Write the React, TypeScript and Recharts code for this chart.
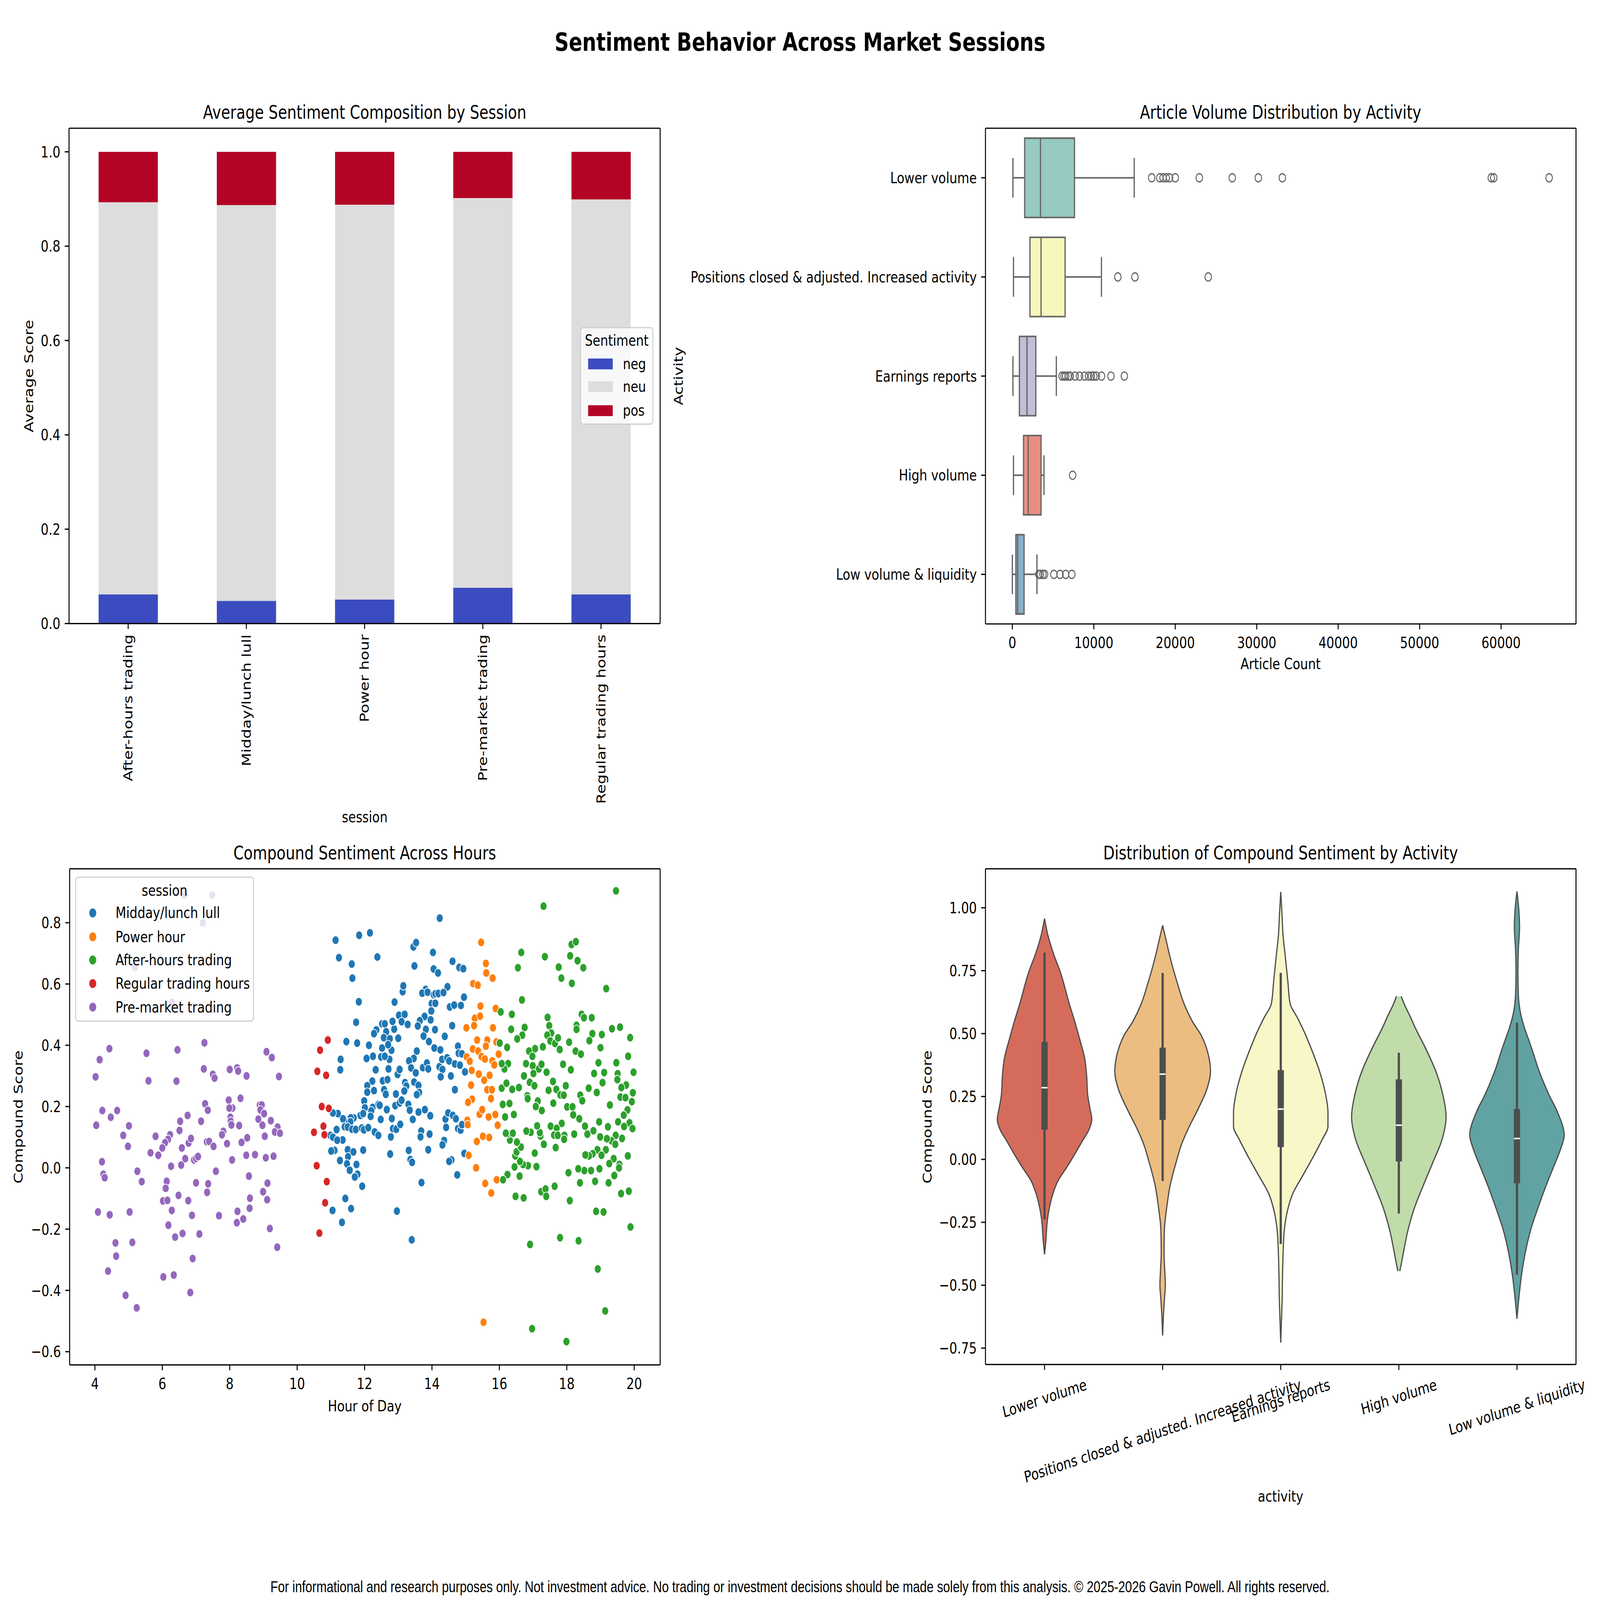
import React from 'react';
import {
  BarChart, Bar, XAxis, YAxis, Legend, ComposedChart, Scatter, ScatterChart,
  ReferenceArea, ReferenceLine, Area, CartesianGrid,
} from 'recharts';

const FONT = "'DejaVu Sans', Verdana, sans-serif";
const FS = 41.67;
const LW = 3.33;
const TK = 14.58;
const AXIS_STYLE = { stroke: '#000', strokeWidth: LW };
const TICK_STYLE = { fill: '#000', fontSize: FS, fontFamily: FONT };

// ---------------- Panel 1: stacked sentiment composition ----------------
const SESSIONS = ['After-hours trading', 'Midday/lunch lull', 'Power hour', 'Pre-market trading', 'Regular trading hours'];
const NEG = [0.062, 0.048, 0.051, 0.076, 0.062];
const NEU = [0.831, 0.839, 0.837, 0.826, 0.837];
const POS = [0.107, 0.113, 0.112, 0.098, 0.101];
const SENT_KEYS = ['neg', 'neu', 'pos'];
const SENT_COLORS = ['#3b4cc0', '#dddddd', '#b40426'];
const SCORE_TICKS = [0, 0.2, 0.4, 0.6, 0.8, 1.0];

// ---------------- Panel 2: article volume box plot ----------------
const ACTIVITIES = ['Lower volume', 'Positions closed & adjusted. Increased activity', 'Earnings reports', 'High volume', 'Low volume & liquidity'];
const BOX_COLORS = ['#96cac2', '#f6f6bd', '#c1bed6', '#ea8e83', '#8aafc9'];
const BOX_WLO = [70, 140, 70, 140, 0];
const BOX_Q1 = [1510, 2160, 860, 1370, 430];
const BOX_MED = [3450, 3525, 1800, 1940, 650];
const BOX_Q3 = [7625, 6475, 2880, 3525, 1440];
const BOX_WHI = [14960, 10935, 5400, 3885, 3020];
const OUT_LOWER = [17100, 18100, 18500, 18900, 19300, 20000, 22950, 27000, 30200, 33150, 58800, 59100, 65900];
const OUT_POSITIONS = [12950, 15050, 24050];
const OUT_EARNINGS = [6100, 6350, 6550, 6850, 7100, 7700, 8250, 8850, 9350, 9700, 10000, 10300, 10950, 12100, 13750];
const OUT_HIGH = [7400];
const OUT_LOW = [3250, 3450, 3750, 3950, 5100, 5850, 6550, 7300];
const OUTLIERS = [OUT_LOWER, OUT_POSITIONS, OUT_EARNINGS, OUT_HIGH, OUT_LOW];
const COUNT_TICKS = [0, 10000, 20000, 30000, 40000, 50000, 60000];
const BOX_LINE = '#666666';

// ---------------- Panel 3: compound sentiment across hours ----------------
const MIDDAY = [[11.14,0.743],[11.24,0.686],[11.84,0.759],[12.16,0.767],[11.62,0.665],[11.64,0.619],[12.38,0.688],[11.83,0.542],[11.75,0.475],[11.46,0.412],[11.78,0.407],[11.29,0.354],[11.28,0.320],[12.89,0.541],[13.13,0.575],[13.15,0.594],[13.45,0.721],[13.53,0.735],[13.48,0.659],[14.03,0.703],[14.23,0.815],[14.05,0.649],[14.18,0.636],[14.61,0.674],[14.81,0.654],[14.93,0.650],[14.46,0.591],[13.81,0.582],[13.71,0.570],[13.87,0.573],[14.05,0.565],[14.10,0.568],[14.19,0.569],[14.34,0.572],[13.99,0.536],[14.10,0.537],[13.98,0.512],[13.96,0.483],[13.78,0.494],[13.64,0.480],[13.58,0.463],[13.82,0.452],[14.09,0.451],[13.75,0.430],[13.91,0.412],[14.07,0.391],[14.25,0.385],[14.38,0.429],[14.60,0.464],[14.53,0.525],[14.66,0.531],[14.86,0.530],[14.95,0.557],[13.55,0.381],[13.46,0.357],[13.32,0.349],[13.38,0.326],[13.52,0.310],[13.73,0.327],[13.85,0.342],[13.89,0.323],[14.22,0.330],[14.31,0.321],[14.30,0.354],[14.45,0.359],[14.51,0.349],[14.26,0.297],[14.56,0.300],[14.68,0.339],[14.83,0.335],[14.77,0.397],[14.79,0.374],[14.89,0.372],[14.98,0.313],[14.68,0.255],[13.47,0.280],[13.60,0.269],[13.62,0.246],[13.55,0.239],[13.20,0.278],[13.24,0.267],[13.18,0.251],[13.00,0.423],[12.88,0.453],[12.83,0.478],[13.02,0.498],[13.19,0.501],[13.10,0.477],[13.28,0.468],[12.80,0.384],[12.74,0.354],[12.71,0.323],[12.98,0.305],[13.04,0.321],[12.52,0.470],[12.60,0.470],[12.64,0.444],[12.57,0.425],[12.75,0.421],[12.70,0.402],[12.35,0.450],[12.28,0.438],[12.52,0.391],[12.49,0.362],[12.60,0.364],[12.13,0.400],[12.06,0.357],[12.25,0.364],[12.33,0.320],[12.23,0.283],[12.08,0.268],[12.08,0.247],[12.28,0.252],[12.54,0.284],[12.68,0.288],[12.58,0.255],[12.63,0.240],[12.93,0.241],[11.99,0.218],[12.01,0.196],[12.24,0.197],[12.20,0.186],[12.18,0.168],[12.41,0.207],[12.45,0.204],[12.66,0.190],[12.91,0.203],[13.04,0.212],[13.10,0.221],[13.30,0.207],[13.34,0.188],[13.60,0.182],[13.79,0.190],[13.95,0.170],[13.43,0.158],[12.81,0.161],[12.48,0.158],[11.88,0.171],[11.96,0.177],[11.68,0.163],[11.59,0.163],[11.58,0.150],[11.40,0.152],[11.36,0.160],[11.21,0.177],[11.06,0.179],[11.17,0.125],[10.99,0.106],[11.06,0.100],[11.35,0.091],[11.41,0.134],[11.50,0.133],[11.63,0.126],[11.74,0.125],[11.92,0.130],[11.98,0.124],[12.11,0.131],[12.30,0.117],[12.41,0.106],[12.78,0.101],[12.84,0.128],[12.94,0.126],[13.06,0.142],[11.19,0.090],[11.11,0.057],[11.01,0.055],[11.50,0.059],[11.67,0.052],[11.96,0.058],[11.51,0.036],[11.27,0.024],[11.48,0.013],[11.76,0.011],[11.56,-0.008],[11.79,-0.021],[11.71,-0.030],[11.93,-0.060],[12.76,0.045],[13.31,0.057],[13.36,0.027],[13.41,0.018],[13.68,0.120],[13.66,0.101],[13.93,0.110],[13.89,0.059],[13.69,-0.048],[14.40,0.159],[14.48,0.179],[14.42,0.132],[14.62,0.171],[14.71,0.160],[14.77,0.128],[14.85,0.123],[14.89,0.141],[14.36,0.089],[14.31,0.075],[14.58,0.026],[14.51,0.021],[14.75,-0.023],[14.96,0.047],[11.43,-0.100],[11.60,-0.133],[11.05,-0.139],[11.33,-0.178],[12.96,-0.141],[13.40,-0.235]];
const POWER = [[15.46,0.736],[15.60,0.667],[15.61,0.636],[15.22,0.601],[15.36,0.596],[15.44,0.528],[15.27,0.488],[15.43,0.495],[15.25,0.464],[15.02,0.457],[15.34,0.417],[15.64,0.417],[15.60,0.397],[15.21,0.388],[15.37,0.381],[15.03,0.362],[15.12,0.348],[15.47,0.363],[15.57,0.355],[15.18,0.318],[15.39,0.306],[15.55,0.286],[15.71,0.302],[15.16,0.270],[15.64,0.255],[15.78,0.255],[15.75,0.226],[15.19,0.224],[15.07,0.214],[15.41,0.175],[15.49,0.190],[15.68,0.166],[15.88,0.174],[15.95,0.139],[15.05,0.155],[15.06,0.141],[15.33,0.086],[15.51,0.103],[15.70,0.099],[15.09,0.041],[15.31,0.000],[15.58,-0.051],[15.53,-0.504],[15.80,0.619],[15.89,0.520],[15.81,0.457],[15.91,0.411],[15.98,0.371],[15.79,0.349],[15.85,0.336],[15.76,-0.082],[15.92,-0.039]];
const AFTER = [[19.46,0.904],[17.31,0.854],[16.65,0.703],[17.35,0.689],[16.55,0.653],[18.14,0.729],[18.27,0.738],[18.10,0.692],[18.32,0.676],[18.49,0.653],[17.76,0.655],[17.84,0.619],[18.15,0.602],[19.17,0.585],[16.67,0.548],[16.04,0.509],[16.37,0.501],[16.35,0.452],[16.75,0.458],[16.68,0.433],[16.53,0.421],[16.01,0.407],[16.23,0.393],[17.43,0.491],[17.48,0.464],[17.54,0.440],[17.42,0.433],[17.51,0.414],[17.65,0.406],[17.74,0.424],[17.79,0.386],[17.29,0.395],[17.06,0.389],[16.88,0.381],[16.98,0.364],[18.44,0.501],[18.51,0.490],[18.74,0.490],[18.29,0.465],[18.29,0.452],[18.07,0.410],[18.26,0.381],[18.42,0.371],[18.76,0.438],[18.67,0.415],[19.04,0.435],[19.00,0.392],[19.34,0.454],[19.58,0.459],[19.88,0.425],[19.82,0.364],[19.47,0.343],[19.98,0.312],[19.51,0.307],[19.50,0.288],[18.94,0.343],[18.81,0.308],[19.11,0.311],[19.06,0.278],[18.65,0.260],[18.89,0.246],[17.89,0.338],[18.12,0.320],[16.79,0.340],[16.99,0.333],[17.17,0.323],[17.25,0.338],[17.40,0.312],[17.01,0.308],[16.73,0.300],[16.90,0.279],[17.04,0.268],[17.59,0.282],[17.46,0.253],[17.69,0.256],[17.97,0.268],[17.81,0.238],[17.91,0.237],[18.40,0.237],[18.46,0.219],[16.83,0.235],[16.84,0.226],[17.14,0.218],[17.08,0.200],[17.26,0.187],[17.60,0.211],[18.01,0.199],[18.17,0.199],[18.19,0.173],[18.37,0.160],[19.28,0.205],[19.76,0.270],[19.62,0.262],[19.96,0.245],[19.59,0.231],[19.74,0.229],[19.93,0.216],[19.80,0.189],[19.69,0.172],[19.86,0.147],[19.70,0.135],[19.95,0.128],[19.52,0.150],[18.96,0.150],[19.22,0.134],[19.64,0.096],[18.99,0.101],[19.45,0.106],[19.33,0.088],[19.19,0.095],[19.44,0.077],[18.79,0.121],[18.61,0.110],[18.54,0.136],[19.81,0.039],[18.91,0.059],[19.16,0.059],[19.03,0.041],[18.77,0.046],[18.66,0.039],[18.55,0.042],[19.39,0.030],[19.26,0.014],[19.56,0.011],[19.55,0.000],[19.41,-0.025],[18.97,-0.003],[18.72,-0.009],[18.52,-0.009],[18.34,-0.003],[18.05,-0.016],[18.39,-0.049],[18.84,-0.044],[19.24,-0.049],[19.61,-0.084],[19.84,-0.076],[18.87,-0.142],[19.09,-0.144],[19.89,-0.193],[18.09,-0.107],[18.35,-0.238],[17.80,-0.228],[18.92,-0.330],[19.14,-0.467],[16.91,-0.250],[16.97,-0.525],[17.99,-0.567],[18.22,0.110],[17.85,0.145],[17.52,0.136],[17.70,0.129],[17.62,0.107],[17.73,0.106],[17.93,0.106],[17.92,0.093],[17.32,0.077],[17.67,0.066],[17.22,0.104],[17.20,0.115],[17.12,0.137],[16.93,0.116],[16.80,0.120],[17.05,0.048],[17.10,0.004],[16.85,0.007],[16.70,0.011],[16.61,0.021],[16.45,0.003],[16.60,-0.027],[16.24,-0.022],[16.11,-0.039],[16.48,-0.093],[16.72,-0.098],[17.24,-0.078],[17.37,-0.069],[17.39,-0.093],[17.64,-0.060],[16.47,0.039],[16.51,0.052],[16.64,0.068],[16.52,0.084],[16.31,0.091],[16.24,0.111],[16.19,0.113],[16.40,0.113],[16.17,0.166],[16.43,0.174],[16.30,0.210],[16.10,0.207],[16.07,0.260],[16.21,0.276],[16.38,0.256],[16.58,0.262],[16.26,0.340],[16.15,0.323],[16.07,0.340]];
const REGULAR = [[10.91,0.417],[10.68,0.384],[10.60,0.315],[10.86,0.302],[10.73,0.200],[10.94,0.194],[10.78,0.136],[10.50,0.116],[10.81,0.108],[10.58,0.007],[10.88,-0.045],[10.83,-0.114],[10.66,-0.213]];
const PREMARKET = [[4.43,0.389],[4.14,0.353],[4.02,0.297],[5.53,0.374],[6.45,0.385],[7.25,0.408],[5.59,0.284],[6.42,0.283],[7.23,0.323],[7.50,0.305],[7.55,0.293],[8.00,0.321],[8.22,0.326],[8.25,0.316],[8.50,0.300],[9.09,0.379],[9.25,0.360],[9.46,0.298],[4.22,0.187],[4.47,0.165],[4.66,0.187],[4.04,0.139],[5.01,0.137],[4.84,0.106],[4.98,0.070],[4.21,0.020],[4.25,-0.021],[4.29,-0.032],[5.26,-0.011],[5.39,-0.045],[4.09,-0.144],[4.44,-0.153],[5.03,-0.144],[4.61,-0.245],[5.11,-0.243],[4.63,-0.288],[4.39,-0.337],[4.91,-0.416],[5.24,-0.457],[6.03,-0.356],[6.34,-0.350],[6.83,-0.407],[6.90,-0.296],[7.27,0.209],[7.35,0.188],[6.75,0.171],[6.53,0.152],[6.51,0.122],[7.15,0.152],[6.23,0.108],[6.17,0.093],[6.08,0.082],[6.00,0.065],[5.80,0.103],[5.65,0.049],[5.88,0.041],[6.58,0.065],[6.78,0.081],[6.85,0.096],[6.68,0.030],[6.56,0.009],[6.26,0.005],[6.94,0.026],[7.00,0.031],[7.06,0.037],[7.32,0.085],[7.39,0.086],[7.52,0.070],[7.59,-0.011],[6.13,-0.044],[6.10,-0.067],[6.02,-0.108],[6.15,-0.106],[6.48,-0.090],[6.77,-0.107],[6.28,-0.139],[6.88,-0.155],[6.18,-0.187],[6.38,-0.226],[6.60,-0.214],[7.10,-0.216],[7.00,-0.049],[7.36,-0.052],[7.33,-0.080],[7.68,-0.156],[7.97,0.221],[8.08,0.195],[7.99,0.195],[8.32,0.227],[8.02,0.165],[8.03,0.152],[8.05,0.140],[8.28,0.138],[7.81,0.119],[7.77,0.108],[7.92,0.079],[8.35,0.083],[8.52,0.098],[8.49,0.041],[8.75,0.043],[8.07,0.026],[8.57,-0.027],[8.60,-0.099],[8.59,-0.132],[8.23,-0.142],[8.40,-0.167],[8.21,-0.179],[8.89,0.205],[8.95,0.205],[8.91,0.189],[9.02,0.177],[8.85,0.159],[8.97,0.139],[9.22,0.154],[9.04,0.103],[9.42,0.133],[9.34,0.117],[9.49,0.113],[9.07,0.033],[9.30,0.038],[9.12,-0.050],[8.99,-0.078],[9.11,-0.104],[9.19,-0.198],[9.41,-0.259],[6.65,0.890],[7.48,0.890],[7.20,0.799],[5.19,0.654],[6.29,0.540]];
const SESSION_NAMES = ['Midday/lunch lull', 'Power hour', 'After-hours trading', 'Regular trading hours', 'Pre-market trading'];
const SESSION_COLORS = ['#1f77b4', '#ff7f0e', '#2ca02c', '#d62728', '#9467bd'];
const SESSION_POINTS = [MIDDAY, POWER, AFTER, REGULAR, PREMARKET];
const HOUR_TICKS = [4, 6, 8, 10, 12, 14, 16, 18, 20];
const COMPOUND_TICKS = [-0.6, -0.4, -0.2, 0, 0.2, 0.4, 0.6, 0.8];

// ---------------- Panel 4: violin of compound sentiment ----------------
const VIOLIN_COLORS = ['#d56c5b', '#ecbd81', '#f7f7c7', '#bfdca9', '#60a3a2'];
const V_LOWER = [[0.957,0],[0.888,0.03],[0.816,0.077],[0.744,0.134],[0.618,0.21],[0.546,0.257],[0.474,0.30],[0.402,0.34],[0.330,0.357],[0.258,0.365],[0.204,0.384],[0.159,0.40],[0.114,0.372],[0.078,0.326],[0.024,0.26],[-0.030,0.19],[-0.084,0.115],[-0.138,0.07],[-0.19,0.042],[-0.246,0.023],[-0.318,0.012],[-0.377,0]];
const V_POSITIONS = [[0.93,0],[0.87,0.03],[0.80,0.065],[0.70,0.125],[0.62,0.18],[0.55,0.25],[0.49,0.33],[0.42,0.385],[0.35,0.405],[0.28,0.375],[0.20,0.30],[0.13,0.225],[0.06,0.16],[-0.01,0.115],[-0.10,0.065],[-0.19,0.035],[-0.28,0.015],[-0.37,0.012],[-0.46,0.02],[-0.50,0.023],[-0.55,0.016],[-0.61,0.008],[-0.70,0]];
const V_EARNINGS = [[1.063,0],[0.978,0.01],[0.888,0.02],[0.80,0.04],[0.708,0.06],[0.618,0.08],[0.564,0.14],[0.51,0.196],[0.438,0.26],[0.348,0.33],[0.258,0.38],[0.186,0.40],[0.132,0.40],[0.078,0.35],[0.006,0.27],[-0.066,0.184],[-0.138,0.10],[-0.21,0.054],[-0.282,0.03],[-0.372,0.02],[-0.462,0.015],[-0.552,0.012],[-0.642,0.006],[-0.728,0]];
const V_HIGH = [[0.648,0.02],[0.618,0.045],[0.564,0.10],[0.528,0.134],[0.438,0.23],[0.348,0.315],[0.258,0.372],[0.168,0.40],[0.078,0.365],[-0.012,0.288],[-0.10,0.21],[-0.19,0.134],[-0.282,0.077],[-0.372,0.038],[-0.417,0.02],[-0.444,0.008]];
const V_LOW = [[1.065,0],[1.014,0.012],[0.924,0.022],[0.834,0.012],[0.744,0.008],[0.654,0.012],[0.582,0.03],[0.528,0.06],[0.474,0.10],[0.438,0.127],[0.348,0.19],[0.258,0.27],[0.186,0.345],[0.096,0.40],[0.042,0.37],[-0.03,0.31],[-0.10,0.25],[-0.19,0.18],[-0.282,0.115],[-0.372,0.07],[-0.462,0.038],[-0.552,0.016],[-0.633,0]];
const VIOLIN_PROFILES = [V_LOWER, V_POSITIONS, V_EARNINGS, V_HIGH, V_LOW];
const V_Q1 = [0.118, 0.157, 0.049, -0.008, -0.095];
const V_Q3 = [0.467, 0.444, 0.355, 0.318, 0.20];
const V_MED = [0.285, 0.339, 0.20, 0.136, 0.083];
const V_WLO = [-0.239, -0.086, -0.336, -0.215, -0.458];
const V_WHI = [0.822, 0.741, 0.741, 0.424, 0.543];
const VIOLIN_TICKS = [-0.75, -0.5, -0.25, 0, 0.25, 0.5, 0.75, 1.0];
const CAT_TICKS = [0, 1, 2, 3, 4];
const VIOLIN_LINE = '#4d4d4d';

// ---------------- layout ----------------
const PAGE_W = 5400;
const PAGE_H = 4280;
const P1_BOX = { x: 0, y: 200, w: 2700, h: 2100 };
const P1_PLOT = { x: 233, y: 343, w: 1995, h: 1325 };
const P2_BOX = { x: 2250, y: 200, w: 3150, h: 2100 };
const P2_PLOT = { x: 3326, y: 343, w: 1993, h: 1326 };
const P3_BOX = { x: 0, y: 2250, w: 2700, h: 1700 };
const P3_PLOT = { x: 235, y: 2324, w: 1993, h: 1327 };
const P4_BOX = { x: 2700, y: 2250, w: 2700, h: 2000 };
const P4_PLOT = { x: 3326, y: 2324, w: 1993, h: 1326 };

function margins(box: any, plot: any, yw: number, xh: number) {
  return {
    left: plot.x - box.x - yw,
    top: plot.y - box.y,
    right: box.x + box.w - plot.x - plot.w,
    bottom: box.y + box.h - plot.y - plot.h - xh,
  };
}

const fmt = (d: number) => (v: number) => Number(v).toFixed(d).replace('-', '\u2212');

let measureCtx: any = null;
function textWidth(t: string, size: number) {
  if (!measureCtx) measureCtx = document.createElement('canvas').getContext('2d');
  measureCtx.font = `${size}px 'DejaVu Sans'`;
  return measureCtx.measureText(t).width;
}

const RotTick90 = (props: any) => {
  const { x, y, payload } = props;
  return (
    <text x={x} y={y} transform={`rotate(-90 ${x} ${y})`} textAnchor="end" dominantBaseline="central"
      fill="#000" fontSize={FS} fontFamily={FONT}>{payload.value}</text>
  );
};

const RotTick15 = (props: any) => {
  const { x, y, payload } = props;
  const label = ACTIVITIES[payload.value] ?? '';
  const w = textWidth(label, FS);
  const a = (15 * Math.PI) / 180;
  const h = FS * 1.164;
  const cy = y + (w * Math.sin(a) + h * Math.cos(a)) / 2;
  return (
    <text x={x} y={cy} transform={`rotate(-15 ${x} ${cy})`} textAnchor="middle" dominantBaseline="central"
      fill="#000" fontSize={FS} fontFamily={FONT}>{label}</text>
  );
};

const ActivityTick = (props: any) => {
  const { x, y, payload } = props;
  return (
    <text x={x} y={y} textAnchor="end" dominantBaseline="central" fill="#000" fontSize={FS} fontFamily={FONT}>
      {ACTIVITIES[payload.value] ?? ''}
    </text>
  );
};

// top and right spines of the axes frame, placed from the chart's own plot offset
const frameGrid = () => (
  <CartesianGrid stroke="#000" strokeWidth={LW}
    horizontalCoordinatesGenerator={(p: any) => [p.offset.top]}
    verticalCoordinatesGenerator={(p: any) => [p.offset.left + p.offset.width]} />
);

const legendBox: any = {
  position: 'relative', boxSizing: 'border-box', border: '3px solid #cccccc', borderRadius: 10,
  background: 'rgba(255,255,255,0.8)', fontFamily: FONT, fontSize: FS, color: '#000',
};

const SentimentLegend = () => {
  const rows = [98, 159, 223];
  return (
    <div style={{ ...legendBox, width: 247, height: 261 }}>
      <div style={{ position: 'absolute', left: 0, width: '100%', top: 36 - 28, lineHeight: '50px', textAlign: 'center' }}>Sentiment</div>
      {SENT_KEYS.map((k, i) => (
        <React.Fragment key={k}>
          <div style={{ position: 'absolute', left: 24, top: rows[i] - 17, width: 83, height: 29, background: SENT_COLORS[i] }} />
          <div style={{ position: 'absolute', left: 141, top: rows[i] - 28, lineHeight: '50px', whiteSpace: 'nowrap' }}>{k}</div>
        </React.Fragment>
      ))}
    </div>
  );
};

const SessionLegend = () => {
  const rows = [97, 161, 223, 286, 349];
  return (
    <div style={{ ...legendBox, width: 603, height: 388 }}>
      <div style={{ position: 'absolute', left: 0, width: '100%', top: 37 - 28, lineHeight: '50px', textAlign: 'center' }}>session</div>
      {SESSION_NAMES.map((n, i) => (
        <React.Fragment key={n}>
          <div style={{ position: 'absolute', left: 56 - 12, top: rows[i] - 15, width: 24, height: 24, borderRadius: '50%', background: SESSION_COLORS[i] }} />
          <div style={{ position: 'absolute', left: 133, top: rows[i] - 28, lineHeight: '50px', whiteSpace: 'nowrap' }}>{n}</div>
        </React.Fragment>
      ))}
    </div>
  );
};

function Panel1() {
  const data = SESSIONS.map((s, i) => ({ session: s, neg: NEG[i], neu: NEU[i], pos: POS[i] }));
  const m = margins(P1_BOX, P1_PLOT, 200, 600);
  return (
    <div style={{ position: 'absolute', left: P1_BOX.x, top: P1_BOX.y }}>
      <BarChart width={P1_BOX.w} height={P1_BOX.h} data={data} margin={m} barCategoryGap="25%">
        {frameGrid()}
        <XAxis dataKey="session" type="category" height={600} interval={0} tickSize={TK} tickMargin={TK}
          tickLine={AXIS_STYLE} axisLine={AXIS_STYLE} tick={(p: any) => <RotTick90 {...p} />} />
        <YAxis type="number" domain={[0, 1.05]} ticks={SCORE_TICKS} width={200} interval={0} allowDataOverflow
          tickSize={TK} tickMargin={TK} tickLine={AXIS_STYLE} axisLine={AXIS_STYLE} tick={TICK_STYLE} tickFormatter={fmt(1)} />
        {SENT_KEYS.map((k, i) => (
          <Bar key={k} dataKey={k} stackId="s" fill={SENT_COLORS[i]} isAnimationActive={false} />
        ))}
        <Legend layout="vertical" align="center" verticalAlign="middle"
          wrapperStyle={{ left: 1958 - P1_BOX.x, top: 875 - P1_BOX.y, width: 247, height: 261 }}
          content={() => <SentimentLegend />} />
      </BarChart>
    </div>
  );
}

const OpenCircle = (p: any) =>
  p.cx == null ? null : <circle cx={p.cx} cy={p.cy} r={11} fill="none" stroke={BOX_LINE} strokeWidth={3.3} />;

function Panel2() {
  const m = margins(P2_BOX, P2_PLOT, 1050, 150);
  const fliers = OUTLIERS.flatMap((arr, i) => arr.map((v) => ({ x: v, y: i })));
  const boxLine = { stroke: BOX_LINE, strokeWidth: 4.2 };
  return (
    <div style={{ position: 'absolute', left: P2_BOX.x, top: P2_BOX.y }}>
      <ComposedChart width={P2_BOX.w} height={P2_BOX.h} margin={m}>
        {frameGrid()}
        <XAxis type="number" dataKey="x" domain={[-3300, 69200]} ticks={COUNT_TICKS} interval={0} allowDataOverflow
          height={150} tickSize={TK} tickMargin={TK + 6} tickLine={AXIS_STYLE} axisLine={AXIS_STYLE} tick={TICK_STYLE} />
        <YAxis type="number" dataKey="y" domain={[-0.5, 4.5]} reversed ticks={CAT_TICKS} interval={0} allowDataOverflow
          width={1050} tickSize={TK} tickMargin={TK} tickLine={AXIS_STYLE} axisLine={AXIS_STYLE}
          tick={(p: any) => <ActivityTick {...p} />} />
        {ACTIVITIES.map((a, i) => (
          <ReferenceArea key={'box' + i} x1={BOX_Q1[i]} x2={BOX_Q3[i]} y1={i - 0.4} y2={i + 0.4}
            fill={BOX_COLORS[i]} fillOpacity={1} {...boxLine} />
        ))}
        {ACTIVITIES.map((a, i) => [
          <ReferenceLine key={'wl' + i} segment={[{ x: BOX_WLO[i], y: i }, { x: BOX_Q1[i], y: i }]} {...boxLine} />,
          <ReferenceLine key={'wh' + i} segment={[{ x: BOX_Q3[i], y: i }, { x: BOX_WHI[i], y: i }]} {...boxLine} />,
          <ReferenceLine key={'cl' + i} segment={[{ x: BOX_WLO[i], y: i - 0.2 }, { x: BOX_WLO[i], y: i + 0.2 }]} {...boxLine} />,
          <ReferenceLine key={'ch' + i} segment={[{ x: BOX_WHI[i], y: i - 0.2 }, { x: BOX_WHI[i], y: i + 0.2 }]} {...boxLine} />,
          <ReferenceLine key={'md' + i} segment={[{ x: BOX_MED[i], y: i - 0.4 }, { x: BOX_MED[i], y: i + 0.4 }]} {...boxLine} />,
        ])}
        <Scatter data={fliers} dataKey="x" shape={OpenCircle} isAnimationActive={false} />
      </ComposedChart>
    </div>
  );
}

function Panel3() {
  const m = margins(P3_BOX, P3_PLOT, 200, 150);
  return (
    <div style={{ position: 'absolute', left: P3_BOX.x, top: P3_BOX.y }}>
      <ScatterChart width={P3_BOX.w} height={P3_BOX.h} margin={m}>
        {frameGrid()}
        <XAxis type="number" dataKey="hour" domain={[3.25, 20.77]} ticks={HOUR_TICKS} interval={0} allowDataOverflow
          height={150} tickSize={TK} tickMargin={TK + 6} tickLine={AXIS_STYLE} axisLine={AXIS_STYLE} tick={TICK_STYLE} />
        <YAxis type="number" dataKey="score" domain={[-0.643, 0.976]} ticks={COMPOUND_TICKS} interval={0} allowDataOverflow
          width={200} tickSize={TK} tickMargin={TK} tickLine={AXIS_STYLE} axisLine={AXIS_STYLE} tick={TICK_STYLE}
          tickFormatter={fmt(1)} />
        {SESSION_NAMES.map((n, i) => {
          const color = SESSION_COLORS[i];
          const pts = SESSION_POINTS[i].map(([h, s]) => ({ hour: h, score: s }));
          return (
            <Scatter key={n} name={n} data={pts} fill={color} isAnimationActive={false}
              shape={(p: any) => (p.cx == null ? null :
                <circle cx={p.cx} cy={p.cy} r={11.5} fill={color} stroke="#ffffff" strokeWidth={2} />)} />
          );
        })}
        <Legend layout="vertical" align="center" verticalAlign="middle"
          wrapperStyle={{ left: 254 - P3_BOX.x, top: 2345 - P3_BOX.y, width: 603, height: 388 }}
          content={() => <SessionLegend />} />
      </ScatterChart>
    </div>
  );
}

function Panel4() {
  const m = margins(P4_BOX, P4_PLOT, 200, 400);
  const rows = VIOLIN_PROFILES.flatMap((prof, i) =>
    prof.map(([y, hw]) => {
      const row: any = { y };
      VIOLIN_PROFILES.forEach((_, j) => {
        row['v' + j] = j === i ? [i - hw, i + hw] : [null, null];
      });
      return row;
    })
  ).sort((a, b) => b.y - a.y);
  const medians = V_MED.map((v, i) => ({ x: i, y: v }));
  return (
    <div style={{ position: 'absolute', left: P4_BOX.x, top: P4_BOX.y }}>
      <ComposedChart layout="vertical" width={P4_BOX.w} height={P4_BOX.h} data={rows} margin={m}>
        {frameGrid()}
        <XAxis type="number" domain={[-0.5, 4.5]} ticks={CAT_TICKS} interval={0} allowDataOverflow height={400}
          tickSize={TK} tickMargin={TK} tickLine={AXIS_STYLE} axisLine={AXIS_STYLE}
          tick={(p: any) => <RotTick15 {...p} />} />
        <YAxis type="number" dataKey="y" domain={[-0.815, 1.155]} reversed ticks={VIOLIN_TICKS} interval={0} allowDataOverflow
          width={200} tickSize={TK} tickMargin={TK} tickLine={AXIS_STYLE} axisLine={AXIS_STYLE} tick={TICK_STYLE}
          tickFormatter={fmt(2)} />
        {VIOLIN_COLORS.map((c, i) => (
          <Area key={'v' + i} dataKey={'v' + i} type="monotone" fill={c} fillOpacity={1} stroke={VIOLIN_LINE}
            strokeWidth={4} connectNulls dot={false} activeDot={false} isAnimationActive={false} />
        ))}
        {VIOLIN_COLORS.map((c, i) => [
          <ReferenceLine key={'vw' + i} segment={[{ x: i, y: V_WLO[i] }, { x: i, y: V_WHI[i] }]} stroke={VIOLIN_LINE} strokeWidth={7.5} />,
          <ReferenceLine key={'vb' + i} segment={[{ x: i, y: V_Q1[i] }, { x: i, y: V_Q3[i] }]} stroke={VIOLIN_LINE} strokeWidth={21} />,
        ])}
        <Scatter data={medians} dataKey="x" isAnimationActive={false}
          shape={(p: any) => (p.cx == null ? null :
            <line x1={p.cx - 10} x2={p.cx + 10} y1={p.cy} y2={p.cy} stroke="#ffffff" strokeWidth={4} />)} />
      </ComposedChart>
    </div>
  );
}

function Overlay() {
  const t = { fontFamily: FONT, fontSize: FS, fill: '#000' } as any;
  const title = { fontFamily: FONT, fontSize: 50, fill: '#000', textAnchor: 'middle' } as any;
  return (
    <svg width={PAGE_W} height={PAGE_H} style={{ position: 'absolute', left: 0, top: 0, pointerEvents: 'none' }}>
      <text x={2700} y={136} textAnchor="middle" fontFamily={FONT} fontWeight="bold" fontSize={66.67} fill="#000">
        Sentiment Behavior Across Market Sessions
      </text>
      <text x={1231} y={318} {...title}>Average Sentiment Composition by Session</text>
      <text x={4322} y={318} {...title}>Article Volume Distribution by Activity</text>
      <text x={1231} y={2299} {...title}>Compound Sentiment Across Hours</text>
      <text x={4322} y={2299} {...title}>Distribution of Compound Sentiment by Activity</text>

      <text x={1231} y={2200} textAnchor="middle" {...t}>session</text>
      <text x={4322} y={1790} textAnchor="middle" {...t}>Article Count</text>
      <text x={1231} y={3775} textAnchor="middle" {...t}>Hour of Day</text>
      <text x={4322} y={4017} textAnchor="middle" {...t}>activity</text>

      <text x={98} y={1006} transform="rotate(-90 98 1006)" textAnchor="middle" dominantBaseline="central" {...t}>Average Score</text>
      <text x={2290} y={1006} transform="rotate(-90 2290 1006)" textAnchor="middle" dominantBaseline="central" {...t}>Activity</text>
      <text x={62} y={2988} transform="rotate(-90 62 2988)" textAnchor="middle" dominantBaseline="central" {...t}>Compound Score</text>
      <text x={3130} y={2988} transform="rotate(-90 3130 2988)" textAnchor="middle" dominantBaseline="central" {...t}>Compound Score</text>

      <text x={2700} y={4259} textAnchor="middle" fontFamily="'Liberation Sans', Arial, sans-serif" fontSize={FS} fill="#000">
        For informational and research purposes only. Not investment advice. No trading or investment decisions should be made solely from this analysis. © 2025-2026 Gavin Powell. All rights reserved.
      </text>
    </svg>
  );
}

export default function App() {
  // fit the full 5400x4280 figure into the visible window if the window is smaller
  const vw = typeof window !== 'undefined' && window.innerWidth > 100 ? window.innerWidth : PAGE_W;
  const vh = typeof window !== 'undefined' && window.innerHeight > 100 ? window.innerHeight : PAGE_H;
  const sx = Math.min(1, vw / PAGE_W);
  const sy = Math.min(1, vh / PAGE_H);
  return (
    <div style={{ position: 'absolute', left: 0, top: 0, width: PAGE_W * sx, height: PAGE_H * sy, overflow: 'hidden', background: '#ffffff' }}>
      <div style={{ position: 'absolute', left: 0, top: 0, width: PAGE_W, height: PAGE_H, background: '#ffffff',
        fontFamily: FONT, transform: `scale(${sx}, ${sy})`, transformOrigin: '0 0' }}>
        <Panel1 />
        <Panel2 />
        <Panel3 />
        <Panel4 />
        <Overlay />
      </div>
    </div>
  );
}
